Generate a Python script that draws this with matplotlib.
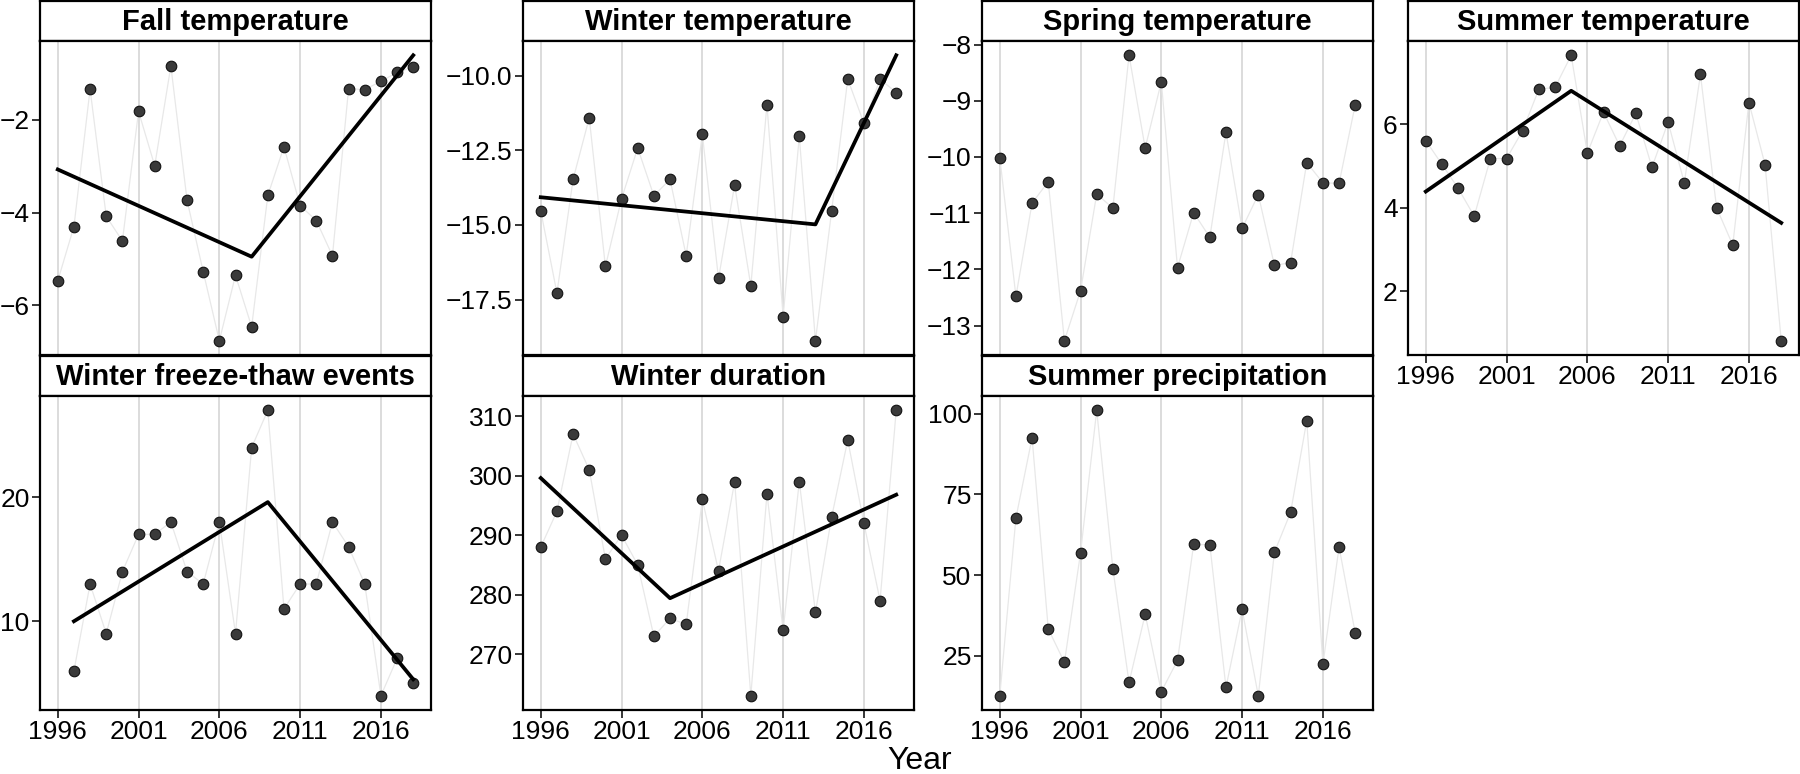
import matplotlib.pyplot as plt
import numpy as np

plt.rcParams['font.family'] = ['Liberation Sans', 'DejaVu Sans']

years = list(range(1996, 2019))
ft_years = list(range(1997, 2019))

fall_temp = [-5.47, -4.30, -1.34, -4.08, -4.61, -1.82, -2.99, -0.84, -3.73, -5.27,
             -6.76, -5.35, -6.46, -3.63, -2.58, -3.85, -4.17, -4.93, -1.33, -1.35,
             -1.17, -0.98, -0.86]
winter_temp = [-14.53, -17.28, -13.47, -11.41, -16.39, -14.12, -12.42, -14.02, -13.47, -16.03,
               -11.96, -16.79, -13.66, -17.04, -10.97, -18.07, -12.03, -18.88, -14.54, -10.11,
               -11.59, -10.11, -10.56]
spring_temp = [-10.01, -12.48, -10.82, -10.44, -13.27, -12.38, -10.66, -10.91, -8.19, -9.84,
               -8.66, -11.97, -10.99, -11.43, -9.56, -11.27, -10.67, -11.93, -11.88, -10.10,
               -10.46, -10.47, -9.07]
summer_temp = [5.61, 5.04, 4.47, 3.80, 5.18, 5.18, 5.85, 6.84, 6.88, 7.65,
               5.31, 6.29, 5.48, 6.26, 4.97, 6.05, 4.60, 7.19, 4.00, 3.11,
               6.52, 5.03, 0.82]
freeze_thaw = [6, 13, 9, 14, 17, 17, 18, 14, 13, 18,
               9, 24, 27, 11, 13, 13, 18, 16, 13, 4,
               7, 5]
winter_duration = [288, 294, 307, 301, 286, 290, 285, 273, 276, 275,
                   296, 284, 299, 263, 297, 274, 299, 277, 293, 306,
                   292, 279, 311]
summer_precip = [12.7, 67.7, 92.5, 33.4, 23.0, 56.9, 101.0, 52.0, 16.8, 37.9,
                 14.0, 23.6, 59.5, 59.4, 15.3, 39.4, 12.7, 57.1, 69.4, 97.8,
                 22.4, 58.7, 32.1]

# segmented regression fits (breakpoints)
fall_trend_x, fall_trend_y = [1996, 2008, 2018], [-3.07, -4.95, -0.61]
winter_trend_x, winter_trend_y = [1996, 2013, 2018], [-14.07, -14.98, -9.31]
summer_trend_x, summer_trend_y = [1996, 2005, 2018], [4.39, 6.80, 3.64]
ft_trend_x, ft_trend_y = [1997, 2009, 2018], [10.0, 19.6, 5.32]
dur_trend_x, dur_trend_y = [1996, 2004, 2018], [299.6, 279.4, 296.8]

xticks = [1996, 2001, 2006, 2011, 2016]

W, H = 1800, 774
fig = plt.figure(figsize=(W / 100, H / 100), dpi=100)


def frac(l, t, w, h):
    return [l / W, 1 - (t + h) / H, w / W, h / H]


def panel(left, top, title, x, y, yticks, yfmt, show_x, tx=None, ty=None):
    pw, ph, sh = 391, 314, 40
    st = fig.add_axes(frac(left, top, pw, sh))
    st.set_xticks([])
    st.set_yticks([])
    for s in st.spines.values():
        s.set_linewidth(1.6)
    st.text(0.5, 0.47, title, ha='center', va='center', fontsize=21,
            fontweight='bold', transform=st.transAxes)

    ax = fig.add_axes(frac(left, top + sh, pw, ph))
    for xt in xticks:
        ax.axvline(xt, color='#d9d9d9', lw=1.3, zorder=1)
    ax.plot(x, y, color='#e8e8e8', lw=0.9, zorder=2)
    ax.scatter(x, y, s=58, c='#3a3a3a', edgecolors='#111111', linewidths=0.8, zorder=3)
    if tx is not None:
        ax.plot(tx, ty, color='black', lw=2.7, zorder=4)
    ax.set_xlim(1994.9, 2019.1)
    ax.margins(y=0.05)
    ax.set_yticks(yticks)
    ax.set_yticklabels([yfmt.format(v).replace('-', '\u2212') for v in yticks])
    ax.set_xticks(xticks)
    if show_x:
        ax.set_xticklabels([str(v) for v in xticks])
    else:
        ax.tick_params(axis='x', bottom=False, labelbottom=False)
    ax.tick_params(direction='out', length=6, width=1.1, labelsize=19,
                   colors='black', pad=1.5)
    for s in ax.spines.values():
        s.set_linewidth(1.6)
    return ax


cols = [40, 523, 982, 1408]
panel(cols[0], 1, 'Fall temperature', years, fall_temp, [-6, -4, -2], '{:.0f}', False,
      fall_trend_x, fall_trend_y)
panel(cols[1], 1, 'Winter temperature', years, winter_temp, [-17.5, -15.0, -12.5, -10.0],
      '{:.1f}', False, winter_trend_x, winter_trend_y)
panel(cols[2], 1, 'Spring temperature', years, spring_temp, [-13, -12, -11, -10, -9, -8],
      '{:.0f}', False)
panel(cols[3], 1, 'Summer temperature', years, summer_temp, [2, 4, 6], '{:.0f}', True,
      summer_trend_x, summer_trend_y)
panel(cols[0], 356, 'Winter freeze-thaw events', ft_years, freeze_thaw, [10, 20], '{:.0f}',
      True, ft_trend_x, ft_trend_y)
panel(cols[1], 356, 'Winter duration', years, winter_duration, [270, 280, 290, 300, 310],
      '{:.0f}', True, dur_trend_x, dur_trend_y)
panel(cols[2], 356, 'Summer precipitation', years, summer_precip, [25, 50, 75, 100],
      '{:.0f}', True)

fig.text(920 / W, 1 - 761 / H, 'Year', ha='center', va='center', fontsize=23)

fig.savefig('out.png', dpi=100)
